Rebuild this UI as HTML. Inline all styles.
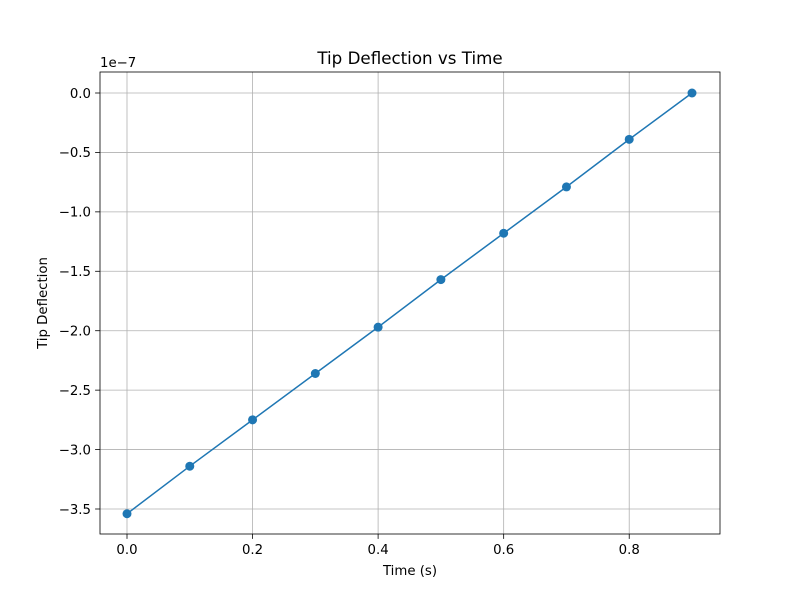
<!DOCTYPE html>
<html><head><meta charset="utf-8"><style>
body{margin:0;background:#fff;font-family:"Liberation Sans","DejaVu Sans",sans-serif;}
svg text{font-family:"DejaVu Sans","Liberation Sans",sans-serif;}
</style></head><body>
<svg id="chart" width="800" height="600" xmlns="http://www.w3.org/2000/svg"></svg>
<script>
const times=[0.0,0.1,0.2,0.3,0.4,0.5,0.6,0.7,0.8,0.9];
const deflection=[-3.54,-3.14,-2.75,-2.36,-1.97,-1.57,-1.18,-0.79,-0.39,0.0];
const xTicks=[0.0,0.2,0.4,0.6,0.8];
const xTickLabels=["0.0","0.2","0.4","0.6","0.8"];
const yTicks=[0.0,-0.5,-1.0,-1.5,-2.0,-2.5,-3.0,-3.5];
const yTickLabels=["0.0","−0.5","−1.0","−1.5","−2.0","−2.5","−3.0","−3.5"];

const L=100,R=720,T=72,B=534;
const xs=v=>127+(v-0)*(692-127)/0.9;
const ys=v=>93+(0-v)*(509-93)/3.5;
const svg=document.getElementById('chart');
const NS="http://www.w3.org/2000/svg";
function mk(tag,attrs,parent){const e=document.createElementNS(NS,tag);for(const k in attrs)e.setAttribute(k,attrs[k]);(parent||svg).appendChild(e);return e;}

const grid=mk('g',{});


xTicks.forEach((v,i)=>{
  mk('line',{x1:xs(v),x2:xs(v),y1:T,y2:B,stroke:'#b0b0b0','stroke-width':0.8},grid);
  const t=mk('line',{x1:xs(v),x2:xs(v),y1:B,y2:B+4.9,stroke:'#000','stroke-width':0.8});
  
  
  const l=mk('text',{x:xs(v),y:B+20,'font-size':13.3,'text-anchor':'middle'});
  l.textContent=xTickLabels[i];
  
  
});
yTicks.forEach((v,i)=>{
  mk('line',{x1:L,x2:R,y1:ys(v),y2:ys(v),stroke:'#b0b0b0','stroke-width':0.8},grid);
  const t=mk('line',{x1:L-4.9,x2:L,y1:ys(v),y2:ys(v),stroke:'#000','stroke-width':0.8});
  
  
  const l=mk('text',{x:L-9,y:ys(v)+4.8,'font-size':13.3,'text-anchor':'end'});
  l.textContent=yTickLabels[i];
  
  
});
const line=mk('polyline',{points:times.map((t,i)=>xs(t)+','+ys(deflection[i])).join(' '),fill:'none',stroke:'#1f77b4','stroke-width':1.5});


times.forEach((t,i)=>{
  const c=mk('circle',{cx:xs(t),cy:ys(deflection[i]),r:4.5,fill:'#1f77b4'});
  
  
});
const frame=mk('rect',{x:L,y:T,width:R-L,height:B-T,fill:'none',stroke:'#000','stroke-width':0.8});


const title=mk('text',{x:410,y:64,'font-size':16.7,'text-anchor':'middle'});
title.textContent='Tip Deflection vs Time';


const xl=mk('text',{x:410,y:575,'font-size':13.3,'text-anchor':'middle'});
xl.textContent='Time (s)';


const yl=mk('text',{x:47,y:303,'font-size':13.3,'text-anchor':'middle',transform:'rotate(-90 47 303)'});
yl.textContent='Tip Deflection';


const off=mk('text',{x:100,y:67,'font-size':13.3});
off.textContent='1e−7';


</script>
</body></html>
